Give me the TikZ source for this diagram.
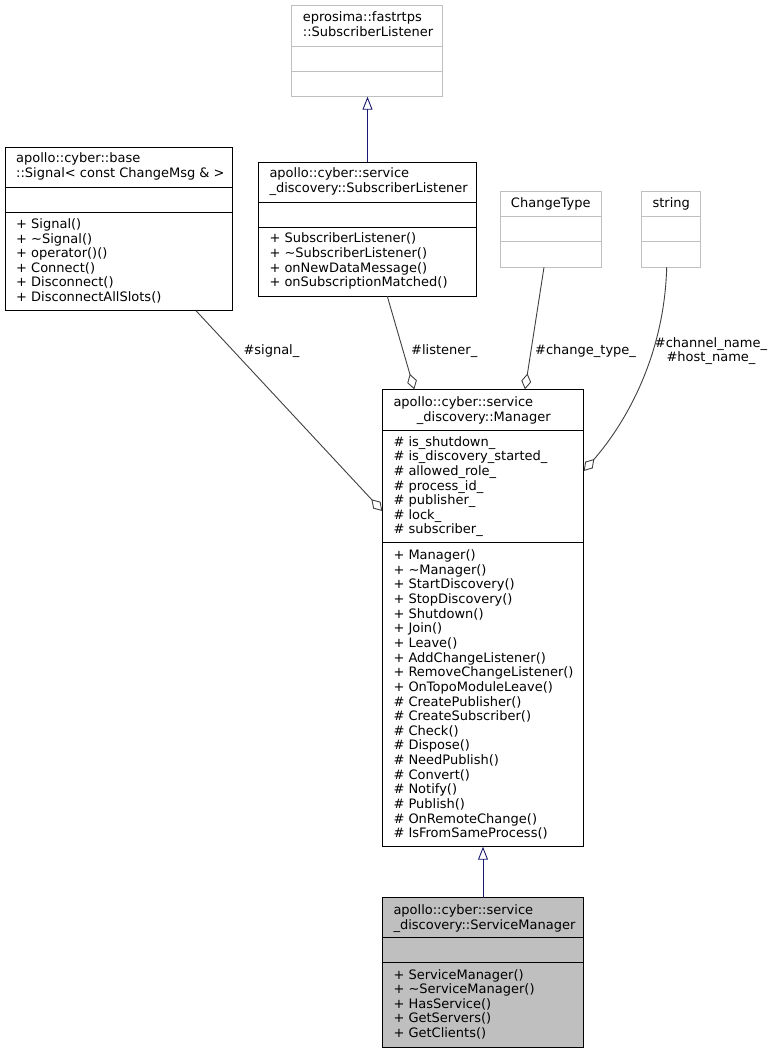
\documentclass[tikz,border=0pt]{standalone}
\usepackage{fontspec}
\setmainfont{DejaVu Sans}
\usetikzlibrary{arrows.meta}
\definecolor{grey75}{RGB}{191,191,191}
\definecolor{grey25}{RGB}{64,64,64}
\definecolor{midnight}{RGB}{25,25,112}
\begin{document}
\begin{tikzpicture}[x=1pt,y=-1pt,
  box/.style={draw=black, line width=0.9pt, fill=white, anchor=north west, inner sep=0pt, outer sep=0pt},
  gbox/.style={box, draw=grey75},
  fbox/.style={box, fill=grey75},
  div/.style={draw=black, line width=0.9pt},
  gdiv/.style={draw=grey75, line width=0.9pt},
  txt/.style={anchor=base west, inner sep=0pt, font=\fontsize{13}{15}\selectfont},
  ctxt/.style={txt, anchor=base},
  agg/.style={draw=grey25, line width=0.9pt, -{Diamond[open, length=16pt, width=10pt]}},
  inh/.style={draw=midnight, line width=0.9pt, -{Triangle[open, length=13pt, width=10pt]}},
]
\useasboundingbox[fill=white] (0,0) rectangle (773,1053);

% ---------- boxes ----------
\node[gbox, minimum width=151pt, minimum height=91pt] (ep) at (291.7,5.7) {};
\draw[gdiv] (ep.west |- 0,46.7) -- (ep.east |- 0,46.7);
\draw[gdiv] (ep.west |- 0,71) -- (ep.east |- 0,71);
\node[txt] (ept1) at (302.7,21.8) {eprosima::fastrtps};
\node[txt] (ept2) at (302.7,36.8) {::SubscriberListener};

\node[box, minimum width=227.7pt, minimum height=163.7pt] (sig) at (5,147) {};
\draw[div] (sig.west |- 0,187.3) -- (sig.east |- 0,187.3);
\draw[div] (sig.west |- 0,212.7) -- (sig.east |- 0,212.7);
\node[txt] (sigt1) at (16,162.5) {apollo::cyber::base};
\node[txt] (sigt2) at (16,177.5) {::Signal< const ChangeMsg \& >};
\foreach \t [count=\i from 0] in {{+ Signal()},{+ \textasciitilde Signal()},{+ operator()()},{+ Connect()},{+ Disconnect()},{+ DisconnectAllSlots()}}
  \node[txt] (sigm\i) at (16,{228.5+\i*14.5}) {\t};

\node[box, minimum width=218.4pt, minimum height=134pt] (sl) at (258.3,162.3) {};
\draw[div] (sl.west |- 0,202) -- (sl.east |- 0,202);
\draw[div] (sl.west |- 0,227.3) -- (sl.east |- 0,227.3);
\node[txt] (slt1) at (269.3,177.8) {apollo::cyber::service};
\node[txt] (slt2) at (269.3,192.8) {\_discovery::SubscriberListener};
\foreach \t [count=\i from 0] in {{+ SubscriberListener()},{+ \textasciitilde SubscriberListener()},{+ onNewDataMessage()},{+ onSubscriptionMatched()}}
  \node[txt] (slm\i) at (269.3,{242.8+\i*14.6}) {\t};

\node[gbox, minimum width=101.7pt, minimum height=76.3pt] (ct) at (500,191) {};
\draw[gdiv] (ct.west |- 0,216.7) -- (ct.east |- 0,216.7);
\draw[gdiv] (ct.west |- 0,241.7) -- (ct.east |- 0,241.7);
\node[ctxt] (ctt) at (550.8,207.2) {ChangeType};

\node[gbox, minimum width=59pt, minimum height=76.3pt] (str) at (641.7,191) {};
\draw[gdiv] (str.west |- 0,216.7) -- (str.east |- 0,216.7);
\draw[gdiv] (str.west |- 0,241.7) -- (str.east |- 0,241.7);
\node[ctxt] (strt) at (671.2,207.2) {string};

\node[box, minimum width=201.4pt, minimum height=457.4pt] (mgr) at (382.3,389.3) {};
\draw[div] (mgr.west |- 0,430) -- (mgr.east |- 0,430);
\draw[div] (mgr.west |- 0,542.7) -- (mgr.east |- 0,542.7);
\node[txt] (mgrt1) at (393.3,406.2) {apollo::cyber::service};
\node[txt] (mgrt2) at (416.7,421.5) {\_discovery::Manager};
\foreach \t [count=\i from 0] in {{\# is\_shutdown\_},{\# is\_discovery\_started\_},{\# allowed\_role\_},{\# process\_id\_},{\# publisher\_},{\# lock\_},{\# subscriber\_}}
  \node[txt] (mgra\i) at (393.3,{446.2+\i*14.6}) {\t};
\foreach \t [count=\i from 0] in {{+ Manager()},{+ \textasciitilde Manager()},{+ StartDiscovery()},{+ StopDiscovery()},{+ Shutdown()},{+ Join()},{+ Leave()},{+ AddChangeListener()},{+ RemoveChangeListener()},{+ OnTopoModuleLeave()},{\# CreatePublisher()},{\# CreateSubscriber()},{\# Check()},{\# Dispose()},{\# NeedPublish()},{\# Convert()},{\# Notify()},{\# Publish()},{\# OnRemoteChange()},{\# IsFromSameProcess()}}
  \node[txt] (mgrm\i) at (393.3,{559.5+\i*14.65}) {\t};

\node[fbox, minimum width=201.4pt, minimum height=149.6pt] (sm) at (382.3,897.7) {};
\draw[div] (sm.west |- 0,937.7) -- (sm.east |- 0,937.7);
\draw[div] (sm.west |- 0,962.7) -- (sm.east |- 0,962.7);
\node[txt] (smt1) at (393.3,914.5) {apollo::cyber::service};
\node[txt] (smt2) at (393.3,929.5) {\_discovery::ServiceManager};
\foreach \t [count=\i from 0] in {{+ ServiceManager()},{+ \textasciitilde ServiceManager()},{+ HasService()},{+ GetServers()},{+ GetClients()}}
  \node[txt] (smm\i) at (393.3,{979.5+\i*14.4}) {\t};

% ---------- connectors ----------
\draw[inh] (sl.north) -- (sl.north |- ep.south);
\draw[inh] (sm.north) -- (sm.north |- mgr.south);
\draw[agg] (sig.south -| 196,0) -- (mgr.west |- 0,511);
\draw[agg] (sl.south -| 387.3,0) -- (mgr.north -| 414.3,0);
\draw[agg] (ct.south -| 544,0) -- (mgr.north -| 525,0);
\draw[agg] (str.south -| 666.7,0) .. controls (664,365) and (618,432) .. (mgr.east |- 0,471);

% ---------- labels ----------
\node[txt] (lsig) at (243.3,354.5) {\#signal\_};
\node[txt] (llis) at (411,354.5) {\#listener\_};
\node[txt] (lct) at (535,354.5) {\#change\_type\_};
\node[ctxt] (lch) at (711,347.8) {\#channel\_name\_};
\node[ctxt] (lho) at (711,361.2) {\#host\_name\_};
\end{tikzpicture}
\end{document}
